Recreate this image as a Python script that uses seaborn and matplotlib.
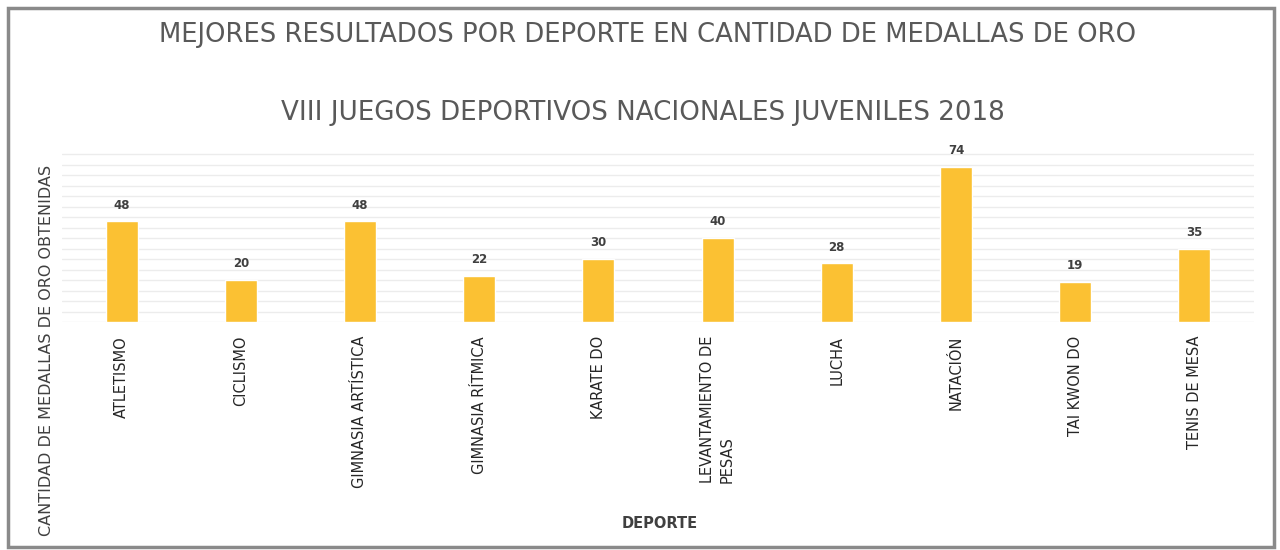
import matplotlib
matplotlib.use("Agg")
import matplotlib.pyplot as plt
import seaborn as sns
import pandas as pd

deportes = ["ATLETISMO", "CICLISMO", "GIMNASIA ARTÍSTICA", "GIMNASIA RÍTMICA",
            "KARATE DO", "LEVANTAMIENTO DE\nPESAS", "LUCHA", "NATACIÓN",
            "TAI KWON DO", "TENIS DE MESA"]
medallas = [48, 20, 48, 22, 30, 40, 28, 74, 19, 35]
titulo1 = "MEJORES RESULTADOS POR DEPORTE EN CANTIDAD DE MEDALLAS DE ORO"
titulo2 = "VIII JUEGOS DEPORTIVOS NACIONALES JUVENILES 2018"
etiqueta_x = "DEPORTE"
etiqueta_y = "CANTIDAD DE MEDALLAS DE ORO OBTENIDAS"

df = pd.DataFrame({"deporte": deportes, "medallas": medallas})

sns.set_theme(style="white")
plt.rcParams["font.family"] = ["DejaVu Sans"]

fig = plt.figure(figsize=(12.8, 5.5), dpi=100)
ax = fig.add_axes([62/1280, 1-322/550, (1254-62)/1280, (322-150)/550])

sns.barplot(data=df, x="deporte", y="medallas", color="#FBC133", width=0.27,
            saturation=1, ax=ax, zorder=3)
ax.set_ylim(0, 82)
ax.set_yticks(range(0, 85, 5))
ax.set_yticklabels([])
ax.tick_params(axis="y", length=0)
ax.grid(axis="y", color="#ececec", linewidth=1, zorder=0)
ax.set_axisbelow(True)
for s in ax.spines.values():
    s.set_visible(False)
ax.set_xlabel("")
ax.set_ylabel("")
ax.tick_params(axis="x", length=0, pad=10)
for lbl in ax.get_xticklabels():
    lbl.set_rotation(90)
    lbl.set_va("top")
    lbl.set_fontsize(10.5)
    lbl.set_color("#262626")
    lbl.set_multialignment("left")
    lbl.set_linespacing(1.4)

for p, v in zip(ax.patches, medallas):
    ax.annotate(str(v), (p.get_x() + p.get_width()/2, p.get_height()),
                xytext=(0, 7), textcoords="offset points", ha="center", va="bottom",
                fontsize=8.5, fontweight="bold", color="#404040")

fig.text(648/1280, 1-35/550, titulo1, ha="center", va="center", fontsize=18.6,
         color="#595959")
fig.text(643/1280, 1-113/550, titulo2, ha="center", va="center", fontsize=18.8,
         color="#595959")
fig.text(660/1280, 1-523/550, etiqueta_x, ha="center", va="center", fontsize=10.5,
         fontweight="bold", color="#404040")
fig.text(47/1280, 1-350/550, etiqueta_y, ha="center", va="center", rotation=90,
         fontsize=11.5, color="#404040")

border = plt.Rectangle((8/1280, 1-547/550), 1266/1280, 539/550, transform=fig.transFigure,
                       fill=False, edgecolor="#8a8a8a", linewidth=2.5)
fig.add_artist(border)

fig.savefig("out.png", dpi=100)
